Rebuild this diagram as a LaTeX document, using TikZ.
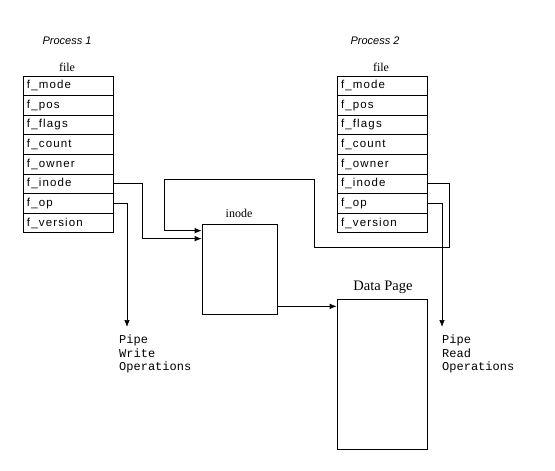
\documentclass[tikz,border=0pt]{standalone}
\usepackage{fontspec}
\setmainfont{Liberation Serif}
\newfontfamily\rowfont[LetterSpace=10]{Liberation Sans}
\newfontfamily\procfont{Liberation Sans}
\newfontfamily\pipefont{Liberation Mono}
\usetikzlibrary{arrows.meta}
\begin{document}
\begin{tikzpicture}[x=1pt,y=-1pt,
  rowbox/.style={draw,line width=0.7pt,minimum width=90pt,minimum height=19.6pt,inner sep=0pt,
     text width=82pt,align=left,font=\rowfont\fontsize{11.5}{12}\selectfont},
  bigbox/.style={draw,line width=0.7pt,inner sep=0pt},
  conn/.style={line width=0.7pt},
  arr/.style={conn,-{Latex[length=7pt,width=5.5pt]}},
  proc/.style={font=\procfont\itshape\fontsize{11}{13}\selectfont},
  lbl/.style={font=\fontsize{12}{14}\selectfont},
  pipe/.style={font=\pipefont\fontsize{12}{13.5}\selectfont,align=left,anchor=north west,inner sep=0pt}]
\useasboundingbox (0,0) rectangle (555,471);
\fill[white] (0,0) rectangle (555,471);
% file tables
\foreach \t [count=\i] in {f\_mode,f\_pos,f\_flags,f\_count,f\_owner,f\_inode,f\_op,f\_version}{
  \node[rowbox] (L\i) at (68,{76+19.6*(\i-0.5)}) {\t};
  \node[rowbox] (R\i) at (382,{76+19.6*(\i-0.5)}) {\t};
}
\node[proc] (p1) at (67,41) {Process 1};
\node[proc] (p2) at (375,41) {Process 2};
\node[lbl] (fl) at (67,67) {file};
\node[lbl] (fr) at (381,67) {file};
% inode
\node[bigbox,minimum width=75pt,minimum height=90pt] (inode) at (239.5,269) {};
\node[lbl] (inl) at (239,213) {inode};
% Data page
\node[bigbox,minimum width=90pt,minimum height=150pt] (dp) at (382,374) {};
\node[font=\fontsize{14.5}{16}\selectfont] (dpl) at (383,287) {Data Page};
% pipe texts
\node[pipe] (pw) at (119,335) {Pipe\\Write\\Operations};
\node[pipe] (pr) at (442,335) {Pipe\\Read\\Operations};
\coordinate (pwt) at (127,327);
\coordinate (prt) at (442,327);
% connectors
\draw[arr] (L6.east) -- ++(29,0) |- ([yshift=-15pt]inode.north west);
\draw[arr] (L7.east) -| (pwt);
\draw[arr] (R6.east) -| (449,247) -| (314,179) -- (164,179) |- ([yshift=-7pt]inode.north west);
\draw[arr] (R7.east) -| (prt);
\draw[arr] ([yshift=8pt]inode.south east) -- ([yshift=8pt]inode.south east -| dp.west);
\end{tikzpicture}
\end{document}
